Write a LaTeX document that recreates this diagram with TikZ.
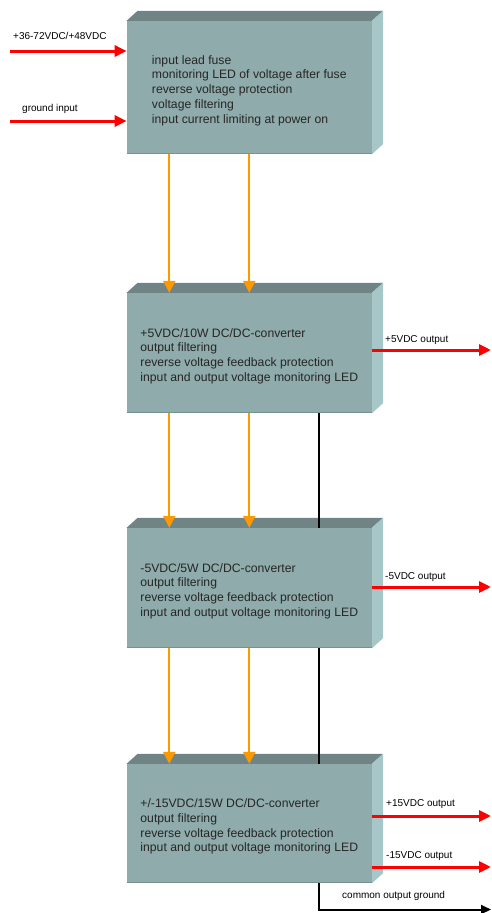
\documentclass[tikz,border=0pt]{standalone}
\usepackage{fontspec}
\setmainfont{Liberation Sans}
\usetikzlibrary{arrows.meta}
\definecolor{frontface}{RGB}{143,171,171}
\definecolor{topface}{RGB}{112,132,134}
\definecolor{sideface}{RGB}{167,198,199}
\definecolor{edgeshade}{RGB}{120,146,147}
\definecolor{feedorange}{RGB}{255,153,0}
\newcommand{\topgap}{\rule{0pt}{15pt}}
\tikzset{block/.style = {shape=rectangle,fill=frontface,minimum width=245pt,align=left,inner sep=0pt,text=black!85,font=\fontsize{12.2}{14.8}\selectfont}}
\tikzset{supply/.style = {draw=red,line width=3pt,-{Triangle[length=12pt,width=11pt]}}}
\tikzset{feed/.style = {draw=feedorange,line width=2.3pt,-{Triangle[length=12pt,width=12pt]}}}
\tikzset{common/.style = {draw=black,line width=2pt}}
\tikzset{tag/.style = {anchor=base west,inner sep=0pt,font=\fontsize{10}{12}\selectfont}}

\begin{document}
\begin{tikzpicture}[x=1pt,y=-1pt]
          \useasboundingbox (0,0) rectangle (492,913);

          \node[block,minimum height=133pt] (fuse) at (249.3,87.5) {\topgap input lead fuse\\monitoring LED of voltage after fuse\\reverse voltage protection\\voltage filtering\\input current limiting at power on};
          \node[block,minimum height=120pt] (conv5) at (249.3,353) {\topgap+5VDC/10W DC/DC-converter\\output filtering\\reverse voltage feedback protection\\input and output voltage monitoring LED};
          \node[block,minimum height=120pt] (convm5) at (249.3,588) {\topgap-5VDC/5W DC/DC-converter\\output filtering\\reverse voltage feedback protection\\input and output voltage monitoring LED};
          \node[block,minimum height=119pt] (conv15) at (249.3,823.5) {\topgap+/-15VDC/15W DC/DC-converter\\output filtering\\reverse voltage feedback protection\\input and output voltage monitoring LED};

          % top and side faces
          \foreach \b in {fuse,conv5,convm5,conv15} {
            \fill[topface] (\b.north west) -- ++(11,-10) -- ([shift={(11,-10)}]\b.north east) -- (\b.north east) -- cycle;
            \fill[sideface] (\b.north east) -- ++(11,-10) -- ([shift={(11,-10)}]\b.south east) -- (\b.south east) -- cycle;
            \draw[edgeshade,line width=1.2pt] ([yshift=0.6pt]\b.south west) -- ([yshift=0.6pt]\b.south east);
          }

          \coordinate (vin) at (10,51);
          \coordinate (gin) at (10,121);
          \coordinate (out5) at (491,350);
          \coordinate (outm5) at (491,587);
          \coordinate (out15) at (491,816);
          \coordinate (outm15) at (491,867);
          \coordinate (gout) at (491,909.5);

          \node[tag] (vinlabel) at (13,39.5) {+36-72VDC/+48VDC};
          \node[tag] (ginlabel) at (22,111.5) {ground input};
          \node[tag] (out5label) at (385,342) {+5VDC output};
          \node[tag] (outm5label) at (385,579.5) {-5VDC output};
          \node[tag] (out15label) at (386,806) {+15VDC output};
          \node[tag] (outm15label) at (386,858.5) {-15VDC output};
          \node[tag] (goutlabel) at (342,898.5) {common output ground};

          \path[supply] (vin) -- (vin -| fuse.west);
          \path[supply] (gin) -- (gin -| fuse.west);

          \path[feed] ([xshift=-80pt]fuse.south) -- ([xshift=-80pt]conv5.north);
          \path[feed] (fuse.south) -- (conv5.north);
          \path[feed] ([xshift=-80pt]conv5.south) -- ([xshift=-80pt]convm5.north);
          \path[feed] (conv5.south) -- (convm5.north);
          \path[feed] ([xshift=-80pt]convm5.south) -- ([xshift=-80pt]conv15.north);
          \path[feed] (convm5.south) -- (conv15.north);

          \path[common] ([xshift=70pt]conv5.south) -- ([xshift=70pt]convm5.north);
          \path[common] ([xshift=70pt]convm5.south) -- ([xshift=70pt]conv15.north);
          \path[common,-{Triangle[length=10pt,width=9pt]}] ([xshift=70pt]conv15.south) |- (gout);

          \path[supply] (out5 -| conv5.east) -- (out5);
          \path[supply] (outm5 -| convm5.east) -- (outm5);
          \path[supply] (out15 -| conv15.east) -- (out15);
          \path[supply] (outm15 -| conv15.east) -- (outm15);
        \end{tikzpicture}
\end{document}
